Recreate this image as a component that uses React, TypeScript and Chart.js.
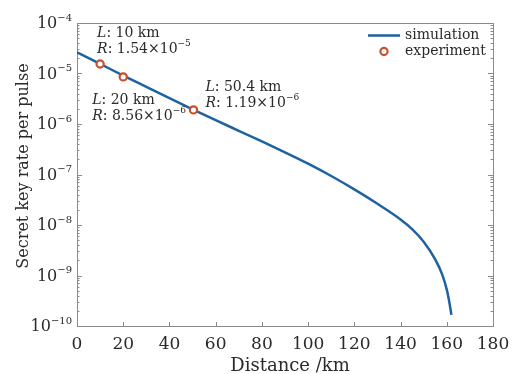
import React, { useEffect, useRef } from "react";
import { Chart, registerables } from "chart.js";
Chart.register(...registerables);

// ---- data ----
const simDistance = [0, 10, 20, 30, 40, 50, 60, 70, 80, 90, 100, 110, 120, 130, 140, 145, 150, 155, 158, 160, 161, 162];
const simRate = [2.63e-5, 1.55e-5, 9.12e-6, 5.43e-6, 3.24e-6, 1.95e-6, 1.19e-6, 7.33e-7, 4.52e-7, 2.75e-7, 1.64e-7, 9.33e-8, 5.07e-8, 2.63e-8, 1.29e-8, 8.32e-9, 4.68e-9, 2.09e-9, 1.05e-9, 5.25e-10, 3.16e-10, 1.66e-10];
const expDistance = [10, 20, 50.4];
const expRate = [1.54e-5, 8.56e-6, 1.9e-6];
const expLabelL = ["10 km", "20 km", "50.4 km"];
const expLabelRMantissa = ["1.54", "8.56", "1.19"];
const expLabelRExp = ["\u22125", "\u22126", "\u22126"];
const xTicks = [0, 20, 40, 60, 80, 100, 120, 140, 160, 180];
const yTickExps = [-4, -5, -6, -7, -8, -9, -10];
const seriesNames = ["simulation", "experiment"];
const xTitle = "Distance /km";
const yTitle = "Secret key rate per pulse";

const FONT = '"DejaVu Serif", serif';
const TEXT = "#2a2a2a";
const LINE = "#1f62a0";
const MARK = "#c8502c";
const FRAME = "#8a8a8a";

type Run = { text: string; font: string; dy?: number };

function runsWidth(ctx: CanvasRenderingContext2D, runs: Run[]) {
  let w = 0;
  for (const r of runs) {
    ctx.font = r.font;
    w += ctx.measureText(r.text).width;
  }
  return w;
}
function drawRuns(ctx: CanvasRenderingContext2D, x: number, y: number, runs: Run[]) {
  let cx = x;
  ctx.textAlign = "left";
  ctx.textBaseline = "middle";
  for (const r of runs) {
    ctx.font = r.font;
    ctx.fillText(r.text, cx, y + (r.dy || 0));
    cx += ctx.measureText(r.text).width;
  }
}

export default function App() {
  const ref = useRef<HTMLCanvasElement>(null);
  useEffect(() => {
    if (!ref.current) return;
    const decor = {
      id: "decor",
      beforeDatasetsDraw(chart: any) {
        const ctx: CanvasRenderingContext2D = chart.ctx;
        const { left, right, top, bottom } = chart.chartArea;
        const xs = chart.scales.x;
        const ys = chart.scales.y;
        ctx.save();
        ctx.strokeStyle = FRAME;
        ctx.lineWidth = 1;
        ctx.strokeRect(Math.round(left) + 0.5, Math.round(top) + 0.5, Math.round(right - left), Math.round(bottom - top));
        ctx.beginPath();
        for (const t of xTicks) {
          const px = Math.round(xs.getPixelForValue(t)) + 0.5;
          ctx.moveTo(px, bottom);
          ctx.lineTo(px, bottom - 4);
        }
        for (let i = 0; i < yTickExps.length; i++) {
          const e = yTickExps[i];
          const py = Math.round(ys.getPixelForValue(Math.pow(10, e))) + 0.5;
          ctx.moveTo(left, py);
          ctx.lineTo(left + 5, py);
          ctx.moveTo(right, py);
          ctx.lineTo(right - 5, py);
          if (e > -10) {
            for (let m = 2; m <= 9; m++) {
              const v = m * Math.pow(10, e - 1);
              const pm = Math.round(ys.getPixelForValue(v)) + 0.5;
              ctx.moveTo(left, pm);
              ctx.lineTo(left + 2.5, pm);
              ctx.moveTo(right, pm);
              ctx.lineTo(right - 2.5, pm);
            }
          }
        }
        ctx.stroke();
        ctx.restore();
      },
      afterDraw(chart: any) {
        const ctx: CanvasRenderingContext2D = chart.ctx;
        const { left, right, bottom } = chart.chartArea;
        const xs = chart.scales.x;
        const ys = chart.scales.y;
        ctx.save();
        ctx.fillStyle = TEXT;
        ctx.font = `17px ${FONT}`;
        ctx.textAlign = "center";
        ctx.textBaseline = "middle";
        for (const t of xTicks) {
          ctx.fillText(String(t), xs.getPixelForValue(t), bottom + 19);
        }
        for (const e of yTickExps) {
          const py = ys.getPixelForValue(Math.pow(10, e));
          const runs: Run[] = [
            { text: "10", font: `16px ${FONT}` },
            { text: "\u2212" + String(-e), font: `10px ${FONT}`, dy: -6 },
          ];
          const w = runsWidth(ctx, runs);
          drawRuns(ctx, 72 - w, py + 1, runs);
        }
        ctx.font = `18px ${FONT}`;
        ctx.textAlign = "center";
        ctx.textBaseline = "middle";
        ctx.fillText(xTitle, (left + right) / 2 + 5, 366);
        ctx.save();
        ctx.translate(24, 166);
        ctx.rotate(-Math.PI / 2);
        ctx.font = `16px ${FONT}`;
        ctx.fillText(yTitle, 0, 0);
        ctx.restore();
        // legend
        ctx.strokeStyle = LINE;
        ctx.lineWidth = 2.5;
        ctx.beginPath();
        ctx.moveTo(368, 35.5);
        ctx.lineTo(400, 35.5);
        ctx.stroke();
        ctx.strokeStyle = MARK;
        ctx.lineWidth = 2.2;
        ctx.beginPath();
        ctx.arc(384, 51.5, 3.6, 0, Math.PI * 2);
        ctx.stroke();
        ctx.fillStyle = TEXT;
        ctx.font = `14px ${FONT}`;
        ctx.textAlign = "left";
        ctx.textBaseline = "middle";
        ctx.fillText(seriesNames[0], 405, 35);
        ctx.fillText(seriesNames[1], 405, 51);
        // annotations
        const offs = [
          [-3, -31],
          [-31, 23],
          [12, -23],
        ];
        for (let i = 0; i < expDistance.length; i++) {
          const px = xs.getPixelForValue(expDistance[i]);
          const py = ys.getPixelForValue(expRate[i]);
          const ax = px + offs[i][0];
          const ay = py + offs[i][1];
          drawRuns(ctx, ax, ay, [
            { text: "L", font: `italic 14px ${FONT}` },
            { text: ": " + expLabelL[i], font: `14px ${FONT}` },
          ]);
          drawRuns(ctx, ax, ay + 16, [
            { text: "R", font: `italic 14px ${FONT}` },
            { text: ": " + expLabelRMantissa[i] + "\u00d710", font: `14px ${FONT}` },
            { text: expLabelRExp[i], font: `9px ${FONT}`, dy: -5 },
          ]);
        }
        ctx.restore();
      },
    };

    const chart = new Chart(ref.current, {
      type: "line",
      data: {
        datasets: [
          {
            label: seriesNames[0],
            data: simDistance.map((d, i) => ({ x: d, y: simRate[i] })),
            borderColor: LINE,
            borderWidth: 2.5,
            pointRadius: 0,
            fill: false,
            cubicInterpolationMode: "monotone",
            order: 2,
          },
          {
            label: seriesNames[1],
            data: expDistance.map((d, i) => ({ x: d, y: expRate[i] })),
            showLine: false,
            borderColor: MARK,
            backgroundColor: "#ffffff",
            pointBorderColor: MARK,
            pointBackgroundColor: "#ffffff",
            pointBorderWidth: 2.2,
            pointRadius: 3.6,
            order: 1,
          },
        ],
      },
      options: {
        animation: false,
        responsive: false,
        devicePixelRatio: 1,
        layout: { padding: { left: 77, top: 23, right: 21, bottom: 48 } },
        plugins: { legend: { display: false }, tooltip: { enabled: false } },
        scales: {
          x: { type: "linear", min: 0, max: 180, display: false },
          y: { type: "logarithmic", min: 1e-10, max: 1e-4, display: false },
        },
      },
      plugins: [decor],
    } as any);
    return () => chart.destroy();
  }, []);
  return (
    <div style={{ position: "fixed", left: 0, top: 0, width: 514, height: 374, background: "#fff" }}>
      <canvas ref={ref} width={514} height={374} style={{ width: 514, height: 374, display: "block" }} />
    </div>
  );
}
